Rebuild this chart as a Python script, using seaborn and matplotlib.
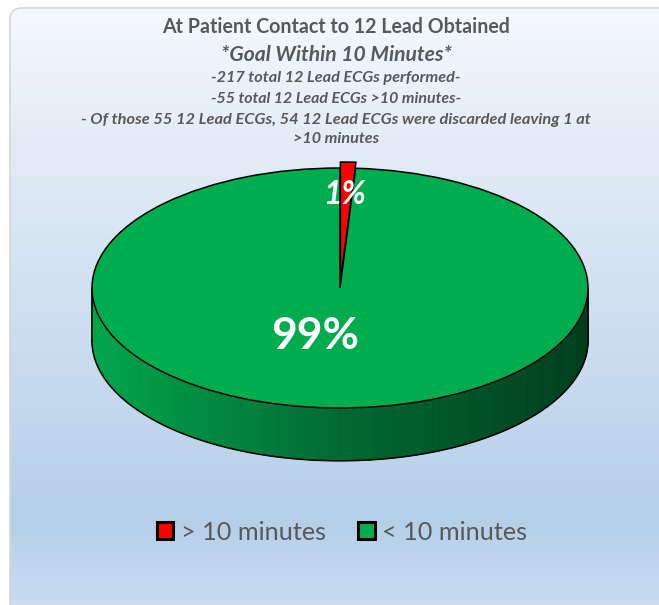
import numpy as np
import matplotlib
matplotlib.use('Agg')
import matplotlib.pyplot as plt
import seaborn as sns
from matplotlib.patches import FancyBboxPatch
from matplotlib.collections import PolyCollection
from matplotlib.colors import LinearSegmentedColormap

# ---------------------------------------------------------------
# DATA
# ---------------------------------------------------------------
labels = ['> 10 minutes', '< 10 minutes']
values = [1, 99]
colors = ['#ff0000', '#00ad4e']

title = 'At Patient Contact to 12 Lead Obtained'
subtitle = '*Goal Within 10 Minutes*'
notes = ['-217 total 12 Lead ECGs performed-',
         '-55 total 12 Lead ECGs >10 minutes-',
         '- Of those 55 12 Lead ECGs, 54 12 Lead ECGs were discarded leaving 1 at',
         '>10 minutes']

sns.set_theme(style='white')
plt.rcParams['font.family'] = ['Lato', 'DejaVu Sans']

W, H = 659, 605
TXT = '#595959'
fig = plt.figure(figsize=(W / 100, H / 100), dpi=100)

# ---------------------------------------------------------------
# background: rounded chart area with vertical gradient
# ---------------------------------------------------------------
bg = fig.add_axes([0, 0, 1, 1])
bg.set_xlim(0, W)
bg.set_ylim(H, 0)
bg.axis('off')

grad = LinearSegmentedColormap.from_list(
    'bg', [(0.0, '#f6f9fd'), (0.24, '#e2ecf6'), (0.5, '#d0e0f1'),
           (0.86, '#b5cfe9'), (1.0, '#c9dcf0')])
img = grad(np.linspace(0, 1, H))[:, None, :]
im = bg.imshow(img, extent=(0, W, H, 0), aspect='auto', zorder=0)
box = FancyBboxPatch((10, 8), W + 20, H + 20,
                     boxstyle='round,pad=0,rounding_size=12',
                     fc='none', ec='#d6d6d6', lw=1.2, zorder=1)
bg.add_patch(box)
im.set_clip_path(box)

# ---------------------------------------------------------------
# 3D-ish pie: top from ax.pie on a squashed axes, side drawn below
# ---------------------------------------------------------------
cx, cy, a, b = 340, 288, 248, 120
L, ylo, yhi = 1.3, -1.8, 1.4
ax = fig.add_axes([(cx - a * L) / W, (H - (cy - b * ylo)) / H,
                   2 * a * L / W, b * (yhi - ylo) / H])

wedges, _, autotexts = ax.pie(
    values, colors=colors, startangle=90, counterclock=False,
    explode=[0.05, 0], autopct='%1.0f%%', pctdistance=0.74,
    wedgeprops=dict(edgecolor='black', linewidth=1.1),
    textprops=dict(color='white', fontweight='bold'))
ax.set_aspect('auto')
ax.set_xlim(-L, L)
ax.set_ylim(ylo, yhi)
ax.axis('off')

# side wall (front half of the disc)
depth = 0.44
t = np.linspace(np.pi, 2 * np.pi, 241)
side_pal = sns.blend_palette(['#00a64c', '#006a32', '#003d1c'], as_cmap=True)
polys, fcs = [], []
for t0, t1 in zip(t[:-1], t[1:]):
    x0, x1 = np.cos(t0), np.cos(t1)
    y0, y1 = np.sin(t0), np.sin(t1)
    polys.append([(x0, y0), (x1, y1), (x1, y1 - depth), (x0, y0 - depth)])
    fcs.append(side_pal((np.cos((t0 + t1) / 2) + 1) / 2))
side = PolyCollection(polys, facecolors=fcs, edgecolors=fcs, linewidths=0.6,
                      zorder=0.5)
ax.add_collection(side)
ax.plot(np.cos(t), np.sin(t) - depth, color='black', lw=1.1, zorder=0.6)
ax.plot([-1, -1], [0, -depth], color='black', lw=1.1, zorder=0.6)
ax.plot([1, 1], [0, -depth], color='black', lw=1.1, zorder=0.6)

autotexts[0].set_fontstyle('italic')
autotexts[0].set_fontsize(23)
autotexts[0].set_position((0.02, 0.78))
autotexts[1].set_fontsize(32)
autotexts[1].set_position((-0.10, -0.40))

# ---------------------------------------------------------------
# titles
# ---------------------------------------------------------------
heads = [
    (title, 33, 347, 'normal', 13),
    (subtitle, 61, 231, 'italic', 14),
    (notes[0], 82, 250, 'italic', 11),
    (notes[1], 103, 250, 'italic', 11),
    (notes[2], 124, 508, 'italic', 11),
    (notes[3], 143, 86, 'italic', 11),
]
fig.canvas.draw()
rend = fig.canvas.get_renderer()
for s, yb, wpx, style, fs in heads:
    tx = bg.text(336, yb, s, ha='center', va='baseline', color=TXT,
                 fontweight='bold', fontstyle=style, fontsize=fs, zorder=3)
    w = tx.get_window_extent(rend).width
    tx.set_fontsize(fs * wpx / w)

# legend size fitted to the label width in the picture
probe = bg.text(0, 0, labels[0], fontsize=15)
lfs = 15 * 146 / probe.get_window_extent(rend).width
probe.remove()

leg = bg.legend(wedges, labels, loc='center', bbox_to_anchor=(342, 532),
                bbox_transform=bg.transData, ncol=2, frameon=False,
                fontsize=lfs, labelcolor=TXT, handlelength=0.66,
                handleheight=0.66, handletextpad=0.28, columnspacing=1.3)
for h in leg.legend_handles:
    h.set_linewidth(2.2)
    h.set_edgecolor('black')

fig.savefig('out.png', dpi=100)
